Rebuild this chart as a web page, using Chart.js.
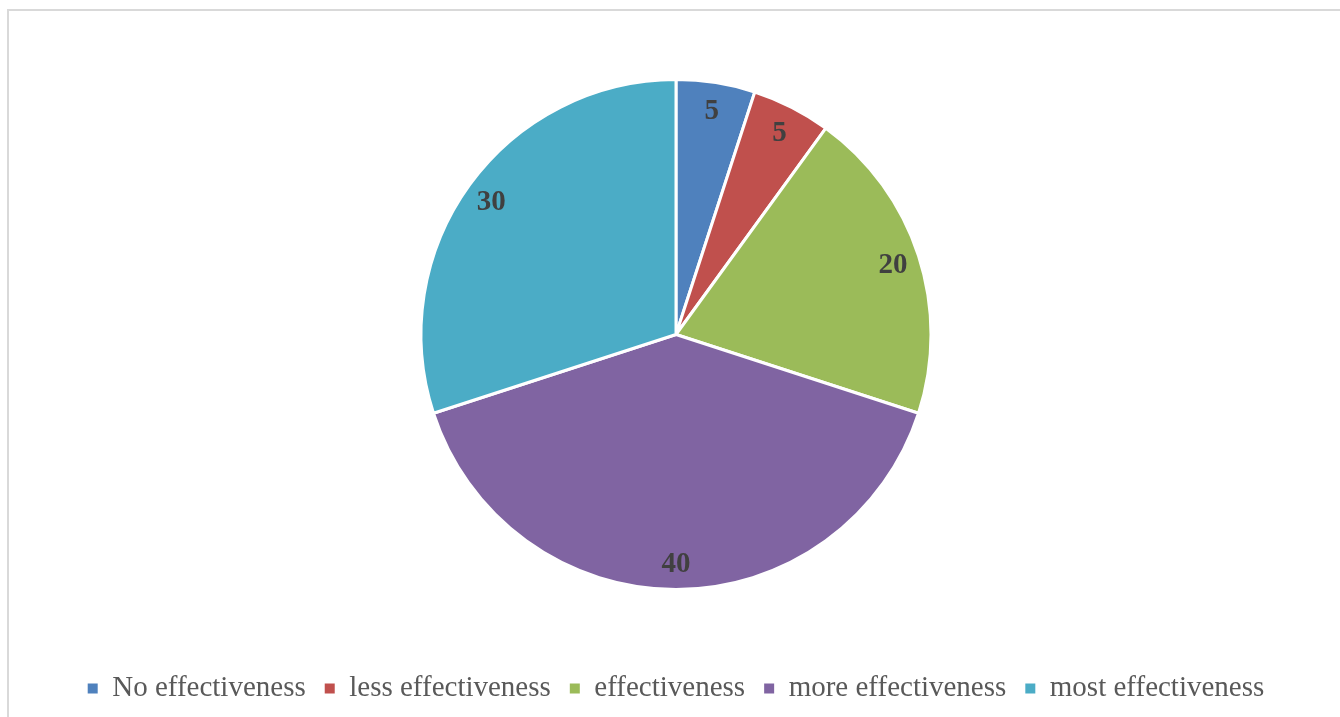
<!DOCTYPE html>
<html>
<head>
<meta charset="utf-8">
<script src="https://cdn.jsdelivr.net/npm/chart.js@4.4.1/dist/chart.umd.min.js"></script>
<style>
    html, body { margin: 0; padding: 0; background: #fff; overflow: hidden; }
    #frame {
        position: absolute; left: 7px; top: 9px;
        width: 1360px; height: 740px;
        border: 2px solid #d9d9d9;
    }
    #wrap { position: absolute; left: 0; top: 0; width: 1340px; height: 717px; }
</style>
</head>
<body>
<div id="frame"></div>
<div id="wrap"><canvas id="pieChart"></canvas></div>
<script>
/* ================= DATA ================= */
const categories = ["No effectiveness", "less effectiveness", "effectiveness", "more effectiveness", "most effectiveness"];
const responses = [5, 5, 20, 40, 30];
const sliceColors = ["#4F81BD", "#C0504D", "#9BBB59", "#8064A2", "#4BACC6"];

/* ================= SLICE LABELS ================= */
const sliceLabels = {
    id: "sliceLabels",
    afterDatasetsDraw(chart) {
        const ctx = chart.ctx;
        const meta = chart.getDatasetMeta(0);
        ctx.save();
        ctx.font = "bold 29px 'Liberation Serif', 'Times New Roman', serif";
        ctx.fillStyle = "#404040";
        ctx.textAlign = "center";
        ctx.textBaseline = "middle";
        meta.data.forEach((arc, i) => {
            const mid = (arc.startAngle + arc.endAngle) / 2;
            const r = arc.outerRadius * 0.895;
            ctx.fillText(String(responses[i]), arc.x + Math.cos(mid) * r, arc.y + Math.sin(mid) * r + 2);
        });
        ctx.restore();
    }
};

/* ================= CHART ================= */
new Chart(document.getElementById("pieChart"), {
    type: "pie",
    data: {
        labels: categories,
        datasets: [{
            data: responses,
            backgroundColor: sliceColors,
            borderColor: "#ffffff",
            borderWidth: 3
        }]
    },
    options: {
        responsive: true,
        maintainAspectRatio: false,
        animation: false,
        radius: 255,
        layout: { padding: { top: 14, left: 12, bottom: 4 } },
        plugins: {
            tooltip: { enabled: false },
            legend: {
                position: "bottom",
                labels: {
                    boxWidth: 10,
                    boxHeight: 10,
                    padding: 19,
                    color: "#595959",
                    font: { family: "'Liberation Serif', 'Times New Roman', serif", size: 29 },
                    generateLabels(chart) {
                        // plain square markers, no white outline
                        return Chart.controllers.pie.overrides.plugins.legend.labels.generateLabels(chart)
                            .map(item => Object.assign(item, { lineWidth: 0 }));
                    }
                }
            }
        }
    },
    plugins: [sliceLabels]
});
</script>
</body>
</html>
